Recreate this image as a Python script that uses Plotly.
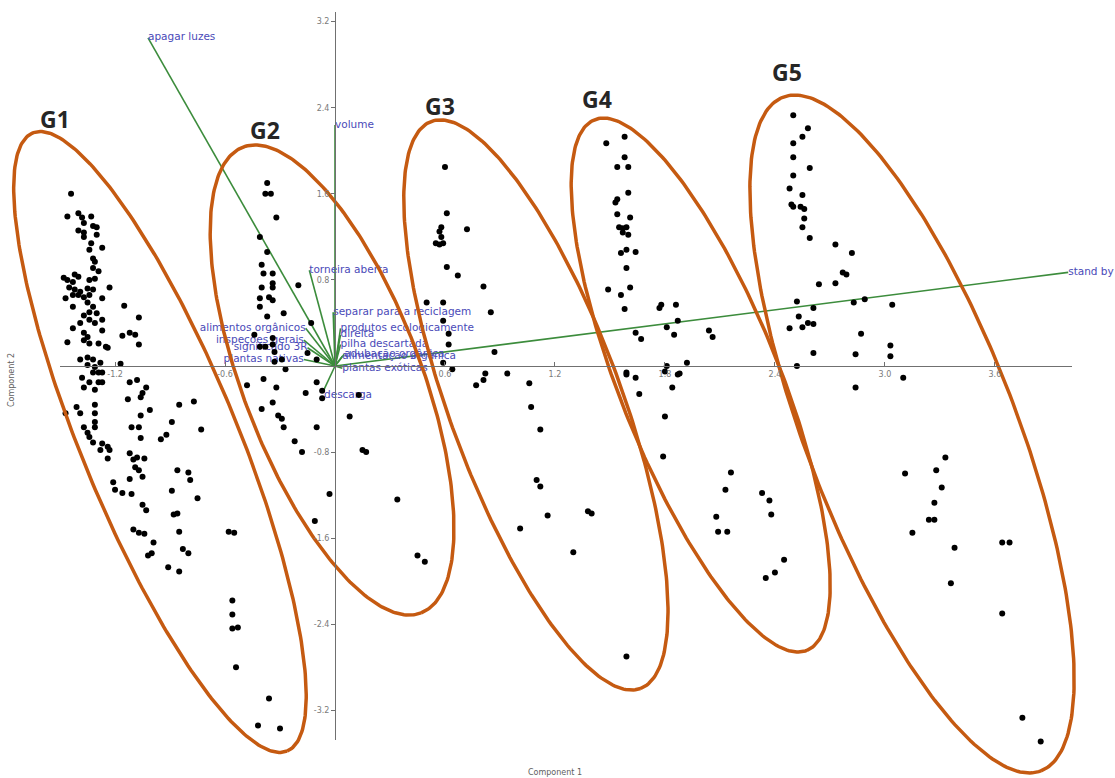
import numpy as np
import plotly.graph_objects as go

# ---------------- data ----------------
g1_scores = [(-1.44,1.60),(-1.46,1.39),(-1.40,1.42),(-1.38,1.38),(-1.33,1.39),(-1.37,1.33),(-1.32,1.30),(-1.30,1.29),
 (-1.40,1.26),(-1.37,1.24),(-1.37,1.20),(-1.30,1.22),(-1.33,1.14),(-1.27,1.10),(-1.34,1.08),(-1.32,1.00),(-1.31,0.97),
 (-1.32,0.91),(-1.29,0.88),(-1.42,0.85),(-1.40,0.83),(-1.48,0.82),(-1.46,0.80),(-1.43,0.78),(-1.34,0.80),(-1.31,0.81),
 (-1.23,0.73),(-1.45,0.73),(-1.42,0.71),(-1.39,0.69),(-1.35,0.72),(-1.32,0.71),(-1.34,0.66),(-1.37,0.64),(-1.40,0.66),
 (-1.43,0.66),(-1.47,0.63),(-1.27,0.63),(-1.43,0.55),(-1.35,0.59),(-1.32,0.55),(-1.34,0.50),(-1.30,0.49),(-1.37,0.47),
 (-1.15,0.56),(-1.07,0.45),(-1.27,0.43),(-1.34,0.43),(-1.31,0.40),(-1.39,0.40),(-1.43,0.35),(-1.27,0.33),(-1.37,0.31),
 (-1.35,0.27),(-1.16,0.28),(-1.12,0.31),(-1.09,0.29),(-1.46,0.22),(-1.37,0.24),(-1.34,0.21),(-1.29,0.21),(-1.25,0.18),
 (-1.24,0.17),(-1.07,0.20),(-1.39,0.06),(-1.35,0.08),(-1.32,0.06),(-1.28,0.03),(-1.35,0.01),(-1.31,-0.01),(-1.29,-0.06),
 (-1.32,-0.06),(-1.27,-0.06),(-1.17,0.02),(-1.38,-0.11),(-1.34,-0.15),(-1.29,-0.15),(-1.27,-0.15),(-1.12,-0.15),
 (-1.08,-0.13),(-1.37,-0.20),(-1.31,-0.22),(-1.03,-0.20),(-1.05,-0.25),(-1.06,-0.29),(-1.13,-0.31),(-1.31,-0.36),
 (-1.41,-0.38),(-1.39,-0.44),(-1.47,-0.44),(-1.01,-0.41),(-0.85,-0.36),(-0.77,-0.33),(-1.31,-0.44),(-1.31,-0.52),
 (-1.31,-0.57),(-1.06,-0.46),(-1.11,-0.57),(-1.07,-0.57),(-0.89,-0.52),(-0.73,-0.59),(-1.37,-0.57),(-1.35,-0.62),
 (-1.34,-0.66),(-1.32,-0.71),(-1.27,-0.72),(-1.24,-0.75),(-1.23,-0.78),(-1.28,-0.78),(-1.24,-0.86),(-1.06,-0.67),
 (-0.95,-0.68),(-0.92,-0.64),(-1.12,-0.81),(-1.08,-0.85),(-1.04,-0.86),(-1.10,-0.87),(-1.09,-0.94),(-1.07,-0.97),
 (-1.05,-1.03),(-1.12,-1.05),(-1.21,-1.08),(-1.20,-1.15),(-1.16,-1.18),(-1.11,-1.19),(-0.86,-0.97),(-0.80,-0.99),
 (-0.79,-1.06),(-0.89,-1.16),(-0.75,-1.23),(-1.05,-1.29),(-1.03,-1.34),(-0.88,-1.38),(-0.86,-1.37),(-1.10,-1.52),
 (-1.07,-1.55),(-1.04,-1.56),(-0.99,-1.64),(-0.85,-1.54),(-0.83,-1.70),(-0.80,-1.74),(-1.02,-1.76),(-1.00,-1.74),
 (-0.91,-1.87),(-0.85,-1.91),(-0.58,-1.54),(-0.55,-1.55),(-0.56,-2.18),(-0.56,-2.31),(-0.56,-2.44),(-0.53,-2.43),
 (-0.54,-2.80),(-0.36,-3.09),(-0.42,-3.34),(-0.30,-3.37)]

g2_scores = [(-0.37,1.70),(-0.38,1.60),(-0.35,1.60),(-0.32,1.38),(-0.41,1.20),(-0.37,1.06),(-0.40,0.94),(-0.39,0.86),
 (-0.34,0.86),(-0.40,0.73),(-0.34,0.77),(-0.34,0.73),(-0.20,0.75),(-0.41,0.63),(-0.36,0.64),(-0.34,0.61),(-0.41,0.55),
 (-0.28,0.49),(-0.37,0.46),(-0.13,0.40),(-0.44,0.29),(-0.34,0.26),(-0.41,0.18),(-0.38,0.18),(-0.34,0.20),(-0.33,0.13),
 (-0.15,0.12),(-0.10,0.06),(-0.29,0.06),(-0.33,0.04),(-0.27,-0.03),(-0.39,-0.12),(-0.48,-0.18),(-0.32,-0.20),
 (-0.10,-0.15),(-0.16,-0.25),(-0.07,-0.23),(-0.07,-0.30),(0.13,-0.27),(-0.40,-0.40),(-0.34,-0.34),(-0.31,-0.46),
 (-0.29,-0.49),(0.08,-0.47),(-0.10,-0.57),(-0.28,-0.57),(-0.22,-0.70),(-0.18,-0.80),(0.15,-0.78),(0.17,-0.80),
 (-0.03,-1.19),(-0.11,-1.44),(0.34,-1.24),(0.45,-1.76),(0.49,-1.82)]

g3_scores = [(0.60,1.85),(0.61,1.42),(0.58,1.29),(0.57,1.25),(0.58,1.20),(0.55,1.14),(0.57,1.13),(0.59,1.14),
 (0.72,1.27),(0.61,0.92),(0.67,0.84),(0.81,0.74),(0.50,0.59),(0.59,0.59),(0.85,0.50),(0.59,0.42),(0.62,0.30),
 (0.62,0.20),(0.87,0.13),(0.59,0.03),(0.64,-0.03),(0.82,-0.07),(0.81,-0.13),(0.77,-0.18),(0.94,-0.07),(1.06,-0.16),
 (1.07,-0.38),(1.12,-0.59),(1.10,-1.06),(1.12,-1.12),(1.16,-1.39),(1.01,-1.51),(1.38,-1.35),(1.40,-1.37),
 (1.30,-1.73),(1.59,-2.70)]

g4_scores = [(1.48,2.07),(1.58,2.13),(1.58,1.94),(1.54,1.85),(1.60,1.85),(1.60,1.61),(1.53,1.52),(1.54,1.55),
 (1.54,1.41),(1.61,1.38),(1.55,1.29),(1.57,1.28),(1.59,1.29),(1.57,1.24),(1.60,1.22),(1.59,1.08),(1.56,1.05),
 (1.64,1.06),(1.59,0.91),(1.49,0.71),(1.61,0.73),(1.56,0.66),(1.58,0.53),(1.78,0.57),(1.77,0.54),(1.86,0.57),
 (1.87,0.42),(1.81,0.36),(1.64,0.31),(1.67,0.25),(1.85,0.29),(2.04,0.33),(2.06,0.27),(1.92,0.03),(1.81,0.00),
 (1.80,-0.05),(1.59,-0.06),(1.59,-0.08),(1.64,-0.11),(1.87,-0.08),(1.88,-0.07),(1.84,-0.20),(1.66,-0.26),
 (1.80,-0.47),(1.79,-0.84),(2.16,-0.99),(2.13,-1.15),(2.08,-1.40),(2.09,-1.54),(2.14,-1.54),(2.33,-1.18),
 (2.37,-1.25),(2.38,-1.38),(2.35,-1.97),(2.40,-1.92),(2.45,-1.80)]

g5_scores = [(2.50,2.33),(2.58,2.21),(2.55,2.13),(2.50,2.07),(2.50,1.94),(2.59,1.84),(2.50,1.77),(2.48,1.65),
 (2.55,1.59),(2.49,1.50),(2.50,1.48),(2.54,1.48),(2.56,1.46),(2.56,1.37),(2.55,1.29),(2.59,1.19),(2.73,1.13),
 (2.82,1.05),(2.77,0.87),(2.79,0.85),(2.64,0.76),(2.73,0.77),(2.52,0.60),(2.61,0.54),(2.83,0.59),(2.89,0.62),
 (3.04,0.57),(2.53,0.46),(2.48,0.35),(2.55,0.36),(2.58,0.40),(2.61,0.39),(2.87,0.30),(2.61,0.12),(2.84,0.11),
 (3.03,0.19),(3.03,0.09),(2.52,0.00),(2.84,-0.20),(3.10,-0.11),(3.11,-1.00),(3.28,-0.97),(3.33,-0.85),
 (3.31,-1.13),(3.27,-1.27),(3.24,-1.43),(3.27,-1.43),(3.15,-1.55),(3.38,-1.69),(3.36,-2.02),(3.64,-1.64),
 (3.68,-1.64),(3.64,-2.30),(3.75,-3.27),(3.85,-3.49)]

group_names = ["G1", "G2", "G3", "G4", "G5"]

loading_names = ["apagar luzes", "volume", "stand by", "torneira aberta", "separar para a reciclagem",
                 "produtos ecologicamente", "direita", "pilha descartada", "alimentação orgânica",
                 "adubação orgânica", "plantas exóticas", "descarga",
                 "alimentos orgânicos", "inspeções gerais", "significado 3R", "plantas nativas"]
loading_pc1 = [-1.02, 0.00, 4.00, -0.14, -0.01, 0.03, 0.03, 0.03, 0.04, 0.05, 0.04, -0.06,
               -0.16, -0.17, -0.15, -0.17]
loading_pc2 = [3.05, 2.24, 0.87, 0.89, 0.50, 0.35, 0.29, 0.20, 0.09, 0.11, -0.02, -0.22,
               0.35, 0.24, 0.17, 0.06]

x_ticks = [-1.2, -0.6, 0.6, 1.2, 1.8, 2.4, 3.0, 3.6]
x_tick_text = ["-1.2", "-0.6", "0.6", "1.2", "1.8", "2.4", "3.0", "3.6"]
y_ticks = [3.2, 2.4, 1.6, 0.8, -0.8, -1.6, -2.4, -3.2]
y_tick_text = ["3.2", "2.4", "1.6", "0.8", "-0.8", "-1.6", "-2.4", "-3.2"]

# ---------------- layout geometry ----------------
W, H = 1115, 778
OX, OY = 335, 366          # pixel position of the origin
SX, SY = 183.3, 107.6      # pixels per unit
def xr(p): return (p - OX) / SX
def yr(p): return (OY - p) / SY

# ellipse geometry (centre, half major-axis vector, half minor-axis vector), data units
ellipses = [
    ((-0.955, -0.706), (0.694, -2.872), (0.394, 0.276)),
    ((-0.016, -0.130), (0.486, -2.164), (0.454, 0.296)),
    ((1.096, -0.362), (0.571, -2.635), (0.440, 0.280)),
    ((1.995, -0.177), (0.579, -2.466), (0.405, 0.276)),
    ((3.148, -0.632), (0.703, -3.131), (0.537, 0.349)),
]
group_label_pos = [(55, 119), (265, 130), (440, 106), (597, 99), (787, 72)]

ORANGE = "#C55A11"
GREEN = "#3C8C3C"
BLUE = "#4A4AB8"

fig = go.Figure()

# loadings (vectors)
for nm, a, b in zip(loading_names, loading_pc1, loading_pc2):
    fig.add_trace(go.Scatter(x=[0, a], y=[0, b], mode="lines",
                             line=dict(color=GREEN, width=1.6), hoverinfo="skip", showlegend=False))

positions = []
for nm, a, b in zip(loading_names, loading_pc1, loading_pc2):
    if nm == "descarga":
        positions.append("bottom right")
    elif a < -0.05 and abs(b) < 0.5:
        positions.append("middle left")
    else:
        positions.append("middle right")
fig.add_trace(go.Scatter(x=loading_pc1, y=loading_pc2, mode="text", text=loading_names,
                         textposition=positions,
                         textfont=dict(family="DejaVu Sans", size=10.5, color=BLUE),
                         hoverinfo="skip", showlegend=False, cliponaxis=False))

# scores
for sc in [g1_scores, g2_scores, g3_scores, g4_scores, g5_scores]:
    xs = [p[0] for p in sc]
    ys = [p[1] for p in sc]
    fig.add_trace(go.Scatter(x=xs, y=ys, mode="markers",
                             marker=dict(color="black", size=6),
                             hoverinfo="skip", showlegend=False, cliponaxis=False))

# group ellipses
t = np.linspace(0, 2 * np.pi, 300)
for (c, u, v) in ellipses:
    ex = c[0] + u[0] * np.cos(t) + v[0] * np.sin(t)
    ey = c[1] + u[1] * np.cos(t) + v[1] * np.sin(t)
    fig.add_trace(go.Scatter(x=ex, y=ey, mode="lines", line=dict(color=ORANGE, width=3.5),
                             hoverinfo="skip", showlegend=False))

# dummy trace for the visible (crossing) axes
fig.add_trace(go.Scatter(x=[None], y=[None], xaxis="x2", yaxis="y2", showlegend=False, hoverinfo="skip"))

annotations = []
for g, (px, py) in zip(group_names, group_label_pos):
    annotations.append(dict(x=px / W, y=1 - py / H, xref="paper", yref="paper", text="<b>%s</b>" % g,
                            xanchor="center", yanchor="middle",
                            showarrow=False, font=dict(family="Open Sans", size=23, color="#262626")))
annotations.append(dict(x=555 / W, y=1 - 772 / H, xref="paper", yref="paper", text="Component 1",
                        xanchor="center", yanchor="middle",
                        showarrow=False, font=dict(family="DejaVu Sans", size=8, color="#606060")))
annotations.append(dict(x=12 / W, y=1 - 380 / H, xref="paper", yref="paper", text="Component 2",
                        xanchor="center", yanchor="middle",
                        textangle=-90, showarrow=False,
                        font=dict(family="DejaVu Sans", size=8, color="#606060")))

tickfont = dict(family="DejaVu Sans", size=8, color="#7a7a7a")
fig.update_layout(
    width=W, height=H, margin=dict(l=0, r=0, t=0, b=0),
    paper_bgcolor="white", plot_bgcolor="rgba(0,0,0,0)",
    xaxis=dict(domain=[0, 1], range=[xr(0), xr(W)], visible=False),
    yaxis=dict(domain=[0, 1], range=[yr(H), yr(0)], visible=False),
    xaxis2=dict(domain=[60 / W, 1072 / W], range=[xr(60), xr(1072)], anchor="free",
                position=(H - OY) / H, showline=True, linecolor="#707070", linewidth=1,
                ticks="inside", ticklen=4, tickcolor="#707070", tickvals=x_ticks, ticktext=x_tick_text,
                tickfont=tickfont, showgrid=False, zeroline=False),
    yaxis2=dict(domain=[(H - 740) / H, (H - 12) / H], range=[yr(740), yr(12)], anchor="free",
                position=OX / W, showline=True, linecolor="#707070", linewidth=1,
                ticks="outside", ticklen=4, tickcolor="#707070", tickvals=y_ticks, ticktext=y_tick_text,
                tickfont=tickfont, showgrid=False, zeroline=False),
    annotations=annotations,
)

fig.write_html("out.html", config={"displayModeBar": False},
               post_script="document.body.style.margin='0px';document.body.style.overflow='hidden';")
